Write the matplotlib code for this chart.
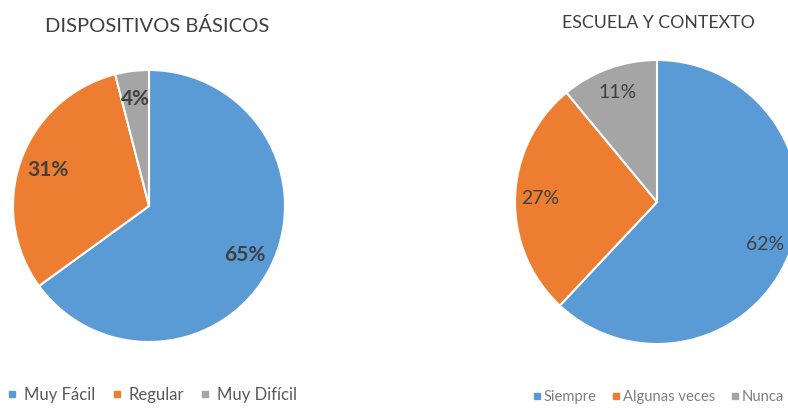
import matplotlib
matplotlib.use("Agg")
import matplotlib.pyplot as plt
from matplotlib.lines import Line2D

# Data
left_title = "DISPOSITIVOS BÁSICOS"
left_labels = ["Muy Fácil", "Regular", "Muy Difícil"]
left_values = [65, 31, 4]

right_title = "ESCUELA Y CONTEXTO"
right_labels = ["Siempre", "Algunas veces", "Nunca"]
right_values = [62, 27, 11]

colors = ["#5B9BD5", "#ED7D31", "#A5A5A5"]
text_color = "#404040"
FONT = ["Lato", "DejaVu Sans"]

W, H = 788, 409
fig = plt.figure(figsize=(W / 100, H / 100), dpi=100)
fig.patch.set_facecolor("white")


def px_axes(cx, cy, r):
    return fig.add_axes([(cx - r) / W, (H - cy - r) / H, 2 * r / W, 2 * r / H])


def draw_pie(ax, values, fs, weight, dist):
    ax.pie(
        values, colors=colors, startangle=90, counterclock=False,
        autopct=lambda p: f"{p:.0f}%", pctdistance=dist, radius=1.0,
        wedgeprops=dict(edgecolor="white", linewidth=1.5),
        textprops=dict(color=text_color, fontsize=fs, family=FONT, fontweight=weight),
    )
    ax.set_xlim(-1, 1)
    ax.set_ylim(-1, 1)
    ax.set_aspect("equal")
    ax.axis("off")


axL = px_axes(149, 206, 136)
draw_pie(axL, left_values, 15, "bold", 0.79)
axR = px_axes(657, 202, 142)
draw_pie(axR, right_values, 14, "normal", 0.82)

fig.text(157 / W, 1 - 26 / H, left_title, ha="center", va="center",
         fontsize=14.5, color="#404040", family=FONT)
fig.text(658 / W, 1 - 23 / H, right_title, ha="center", va="center",
         fontsize=12.8, color="#404040", family=FONT)


def legend(labels, x, y, fs, col, cs, hl, hp):
    handles = [Line2D([], [], marker="s", linestyle="none", markersize=5,
                      markerfacecolor=c, markeredgecolor=c) for c in colors]
    fig.legend(handles, labels, loc="center left", bbox_to_anchor=(x / W, 1 - y / H),
               ncol=3, frameon=False, handlelength=hl,
               handletextpad=hp, columnspacing=cs, borderaxespad=0,
               borderpad=0, labelcolor=col, prop=dict(family=FONT, size=fs))


legend(left_labels, 7, 395, 12, "#595959", 1.0, 0.6, 0.4)
legend(right_labels, 534, 397, 10.6, "#7f7f7f", 1.15, 0.4, 0.25)

fig.savefig("out.png", dpi=100, facecolor="white")
